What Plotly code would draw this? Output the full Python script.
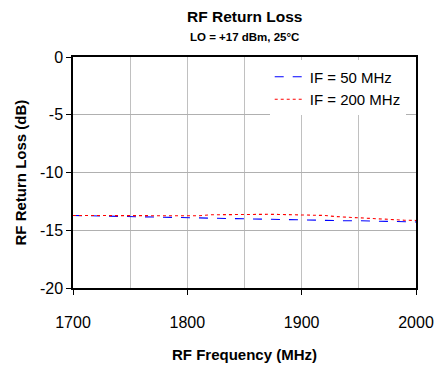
import plotly.graph_objects as go

freq = [1700, 1710, 1720, 1730, 1740, 1750, 1760, 1770, 1780, 1790, 1800,
        1810, 1820, 1830, 1840, 1850, 1860, 1870, 1880, 1890, 1900,
        1910, 1920, 1930, 1940, 1950, 1960, 1970, 1980, 1990, 2000]
rl_if50 = [-13.72, -13.74, -13.76, -13.78, -13.80, -13.83, -13.85, -13.87, -13.89, -13.92, -13.94,
           -13.96, -14.00, -14.02, -14.03, -14.05, -14.08, -14.10, -14.10, -14.10, -14.12,
           -14.15, -14.17, -14.18, -14.18, -14.18, -14.20, -14.22, -14.26, -14.27, -14.28]
rl_if200 = [-13.72, -13.72, -13.72, -13.72, -13.73, -13.74, -13.75, -13.76, -13.77, -13.77, -13.76,
            -13.75, -13.66, -13.64, -13.63, -13.62, -13.62, -13.62, -13.63, -13.64, -13.68,
            -13.72, -13.72, -13.82, -13.88, -13.95, -14.00, -14.05, -14.10, -14.13, -14.15]
x_ticks = [1700, 1800, 1900, 2000]
y_ticks = [0, -5, -10, -15, -20]

FONT = "Liberation Sans, Arial, sans-serif"

fig = go.Figure()
fig.add_trace(go.Scatter(x=freq, y=rl_if50, mode="lines", name="IF = 50 MHz",
                         line=dict(color="#0000ff", width=1.1, dash="dash")))
fig.add_trace(go.Scatter(x=freq, y=rl_if200, mode="lines", name="IF = 200 MHz",
                         line=dict(color="#ff0000", width=1.1, dash="dot")))

fig.update_layout(
    width=435, height=366,
    margin=dict(l=73, r=19, t=57, b=78),
    paper_bgcolor="white", plot_bgcolor="white",
    font=dict(family=FONT, color="black"),
    showlegend=True,
    legend=dict(x=0.97, y=0.985, xanchor="right", yanchor="top",
                bgcolor="white", borderwidth=0, itemwidth=30,
                font=dict(size=15, family=FONT), tracegroupgap=8),
    annotations=[
        dict(text="<b>RF Return Loss</b>", xref="paper", yref="paper",
             x=0.5, y=1.0, yshift=41, showarrow=False, xanchor="center",
             yanchor="middle", font=dict(size=15.5, family=FONT)),
        dict(text="<b>LO = +17 dBm, 25°C</b>", xref="paper", yref="paper",
             x=0.5, y=1.0, yshift=20, showarrow=False, xanchor="center",
             yanchor="middle", font=dict(size=11.5, family=FONT)),
        dict(text="<b>RF Frequency (MHz)</b>", xref="paper", yref="paper",
             x=0.5, y=0, yshift=-66, showarrow=False, xanchor="center",
             yanchor="middle", font=dict(size=15, family=FONT)),
        dict(text="<b>RF Return Loss (dB)</b>", xref="paper", yref="paper",
             x=0, y=0.5, xshift=-53, showarrow=False, xanchor="center",
             yanchor="middle", textangle=-90, font=dict(size=15, family=FONT)),
    ],
)

fig.update_xaxes(
    range=[1700, 2000], tickvals=x_ticks, ticktext=[str(v) for v in x_ticks],
    showgrid=True, gridcolor="#c0c0c0", gridwidth=1,
    minor=dict(dtick=50, tick0=1700, showgrid=True, gridcolor="#c0c0c0", gridwidth=1),
    showline=True, linecolor="black", linewidth=1.5, mirror=True,
    ticks="outside", ticklen=5, tickcolor="black",
    tickfont=dict(size=16, family=FONT), ticklabelstandoff=14,
    automargin=False, zeroline=False,
)
fig.update_yaxes(
    range=[-20, 0], tickvals=y_ticks, ticktext=[str(v) for v in y_ticks],
    showgrid=True, gridcolor="#b0b0b0", gridwidth=1,
    showline=True, linecolor="black", linewidth=1.5, mirror=True,
    ticks="outside", ticklen=5, tickcolor="black",
    tickfont=dict(size=16, family=FONT),
    automargin=False, zeroline=False,
)

fig.write_html("out.html")
